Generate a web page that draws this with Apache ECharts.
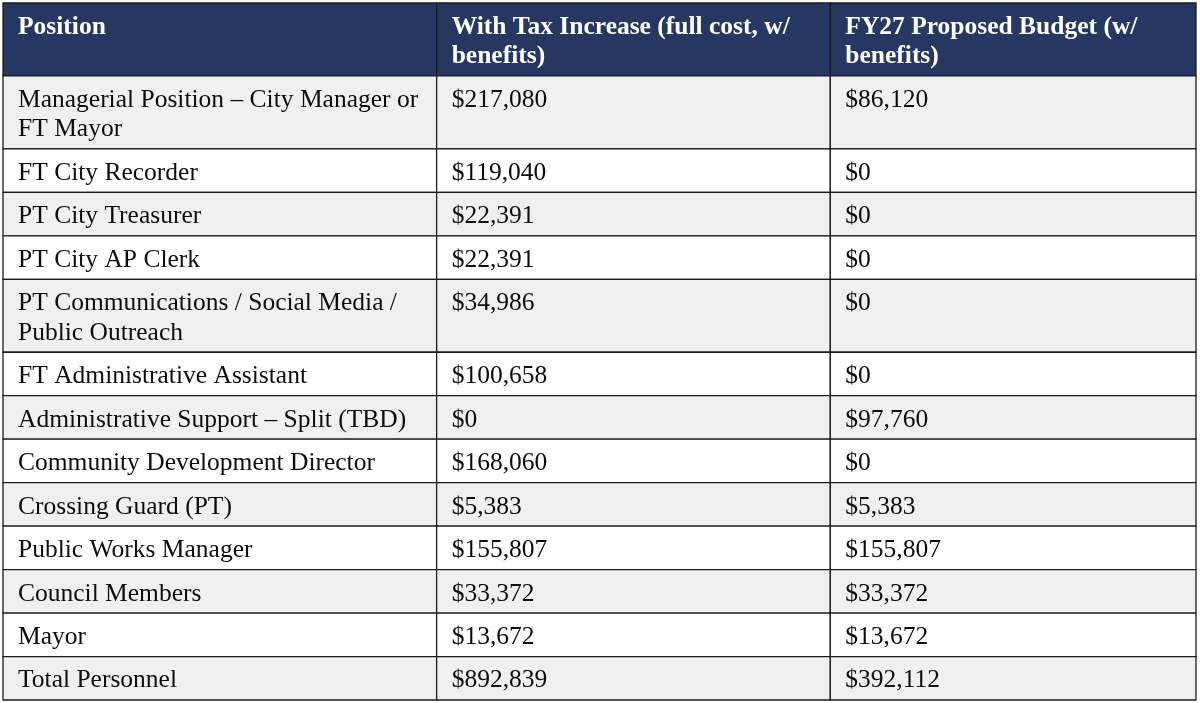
<!DOCTYPE html>
<html>
<head>
<meta charset="utf-8">
<title>Personnel cost comparison</title>
<script src="https://cdn.jsdelivr.net/npm/echarts@6/dist/echarts.min.js"></script>
<style>
  html, body { margin: 0; padding: 0; background: #fff; }
  #chart { width: 1200px; height: 703px; }
</style>
</head>
<body>
<div id="chart"></div>
<script>
// table data ('\n' = where the cell wraps)
const columnHeaders = [
  'Position',
  'With Tax Increase (full cost, w/\nbenefits)',
  'FY27 Proposed Budget (w/\nbenefits)',
];
const positions = [
  'Managerial Position – City Manager or\nFT Mayor',
  'FT City Recorder',
  'PT City Treasurer',
  'PT City AP Clerk',
  'PT Communications / Social Media /\nPublic Outreach',
  'FT Administrative Assistant',
  'Administrative Support – Split (TBD)',
  'Community Development Director',
  'Crossing Guard (PT)',
  'Public Works Manager',
  'Council Members',
  'Mayor',
  'Total Personnel',
];
const withTaxIncrease = [217080, 119040, 22391, 22391, 34986, 100658, 0, 168060, 5383, 155807, 33372, 13672, 892839];
const fy27Proposed = [86120, 0, 0, 0, 0, 0, 97760, 0, 5383, 155807, 33372, 13672, 392112];

// layout
const COL_EDGES = [0, 434 / 1194, 828 / 1194, 1]; // column boundaries as share of table width
const PAD = 14 / 29.5;                             // cell padding, in line units
const FONT = '"Liberation Serif", "Times New Roman", serif';
const HEAD_BG = '#263761';
const STRIPE = '#f0f0f0';
const BORDER = '#1c1c1c';

const money = v => '$' + v.toLocaleString('en-US');

// every row: header first, then body rows
const rows = [columnHeaders].concat(positions.map((p, i) => [p, money(withTaxIncrease[i]), money(fy27Proposed[i])]));
const lineCount = rows.map(cells => Math.max(...cells.map(t => t.split('\n').length)));
const rowStart = [];
let acc = 0;
lineCount.forEach(n => { rowStart.push(acc); acc += n + PAD; });
const total = acc;

const chart = echarts.init(document.getElementById('chart'));

function renderItem(params, api) {
  const r = params.dataIndex;
  const y0 = rowStart[r], y1 = y0 + lineCount[r] + PAD;
  const unit = api.size([0, 1])[1]; // pixels per line
  const isHead = r === 0;
  const children = [];
  for (let c = 0; c < 3; c++) {
    const p0 = api.coord([COL_EDGES[c], y0]);
    const p1 = api.coord([COL_EDGES[c + 1], y1]);
    children.push({
      type: 'rect',
      shape: { x: p0[0], y: p0[1], width: p1[0] - p0[0], height: p1[1] - p0[1] },
      style: {
        fill: isHead ? HEAD_BG : (r % 2 === 1 ? STRIPE : '#ffffff'),
        stroke: BORDER, lineWidth: 1.3,
      },
    });
    children.push({
      type: 'text',
      style: {
        text: rows[r][c],
        x: p0[0] + 15, y: p0[1] + unit * PAD / 2 + 2.5,
        font: (isHead ? 'bold ' : '') + '25.5px ' + FONT,
        fill: isHead ? '#ffffff' : '#0d0d0d',
        lineHeight: unit,
        align: 'left', verticalAlign: 'top',
      },
    });
  }
  return { type: 'group', children };
}

chart.setOption({
  animation: false,
  grid: { left: 3, right: 4, top: 3, bottom: 3 },
  xAxis: { type: 'value', min: 0, max: 1, show: false },
  yAxis: { type: 'value', min: 0, max: total, inverse: true, show: false },
  series: [{
    type: 'custom',
    silent: true,
    renderItem,
    data: rows.map((_, i) => [i]),
  }],
});
</script>
</body>
</html>
